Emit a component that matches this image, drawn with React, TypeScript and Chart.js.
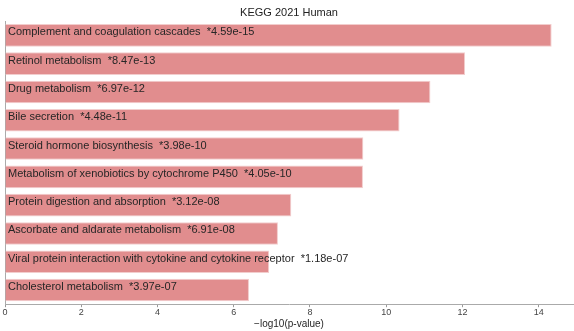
import React, { useEffect, useRef } from "react";
import { Chart, registerables } from "chart.js";

Chart.register(...registerables);

const terms = [
  "Complement and coagulation cascades",
  "Retinol metabolism",
  "Drug metabolism",
  "Bile secretion",
  "Steroid hormone biosynthesis",
  "Metabolism of xenobiotics by cytochrome P450",
  "Protein digestion and absorption",
  "Ascorbate and aldarate metabolism",
  "Viral protein interaction with cytokine and cytokine receptor",
  "Cholesterol metabolism",
];
const pLabels = [
  "*4.59e-15",
  "*8.47e-13",
  "*6.97e-12",
  "*4.48e-11",
  "*3.98e-10",
  "*4.05e-10",
  "*3.12e-08",
  "*6.91e-08",
  "*1.18e-07",
  "*3.97e-07",
];
const scores = [14.34, 12.07, 11.16, 10.35, 9.4, 9.39, 7.51, 7.16, 6.93, 6.4];
const xTicks = [0, 2, 4, 6, 8, 10, 12, 14];

const FONT = "'Liberation Sans', Arial, sans-serif";

const labelPlugin = {
  id: "barLabels",
  afterDatasetsDraw(chart: any) {
    const ctx = chart.ctx;
    const meta = chart.getDatasetMeta(0);
    const xScale = chart.scales.x;
    ctx.save();
    ctx.font = `11px ${FONT}`;
    ctx.fillStyle = "#262626";
    ctx.textBaseline = "middle";
    ctx.textAlign = "left";
    meta.data.forEach((bar: any, i: number) => {
      const x = xScale.getPixelForValue(0) + 3;
      ctx.fillText(`${terms[i]}  ${pLabels[i]}`, x, bar.y - 3);
    });
    ctx.restore();
  },
};

export default function App() {
  const ref = useRef<HTMLCanvasElement>(null);
  useEffect(() => {
    if (!ref.current) return;
    const chart = new Chart(ref.current, {
      type: "bar",
      data: {
        labels: terms,
        datasets: [
          {
            data: scores,
            backgroundColor: "rgb(225,141,142)",
            borderColor: "rgb(242,205,205)",
            borderWidth: 1,
            barPercentage: 0.8,
            categoryPercentage: 1,
          },
        ],
      },
      options: {
        indexAxis: "y",
        animation: false,
        responsive: false,
        maintainAspectRatio: false,
        layout: { padding: { left: 5, right: 1, top: 0, bottom: 1 } },
        plugins: {
          legend: { display: false },
          tooltip: { enabled: false },
          title: {
            display: true,
            text: "KEGG 2021 Human",
            color: "#222",
            font: { family: FONT, size: 11, weight: "normal" },
            padding: { top: 6, bottom: 2 },
          },
        },
        scales: {
          x: {
            type: "linear",
            min: 0,
            max: 14.9,
            afterBuildTicks(scale: any) {
              scale.ticks = xTicks.map((v) => ({ value: v }));
            },
            grid: {
              drawOnChartArea: false,
              drawTicks: true,
              tickLength: 3,
              color: "#999",
            },
            border: { display: true, color: "#aaa", width: 1 },
            ticks: {
              color: "#444",
              font: { family: FONT, size: 9 },
              padding: 0,
              maxRotation: 0,
            },
            title: {
              display: true,
              text: "\u2212log10(p-value)",
              color: "#262626",
              font: { family: FONT, size: 10 },
              padding: { top: 0, bottom: 0 },
            },
          },
          y: {
            type: "category",
            ticks: { display: false },
            grid: { display: false, drawTicks: false },
            border: { display: true, color: "#aaa", width: 1 },
            afterFit(scale: any) {
              scale.width = 0;
            },
          },
        },
      },
      plugins: [labelPlugin],
    });
    return () => chart.destroy();
  }, []);
  return (
    <div style={{ position: "fixed", left: 0, top: 0, width: 574, height: 331, background: "#fff" }}>
      <canvas ref={ref} width={574} height={331} style={{ width: 574, height: 331 }} />
    </div>
  );
}
